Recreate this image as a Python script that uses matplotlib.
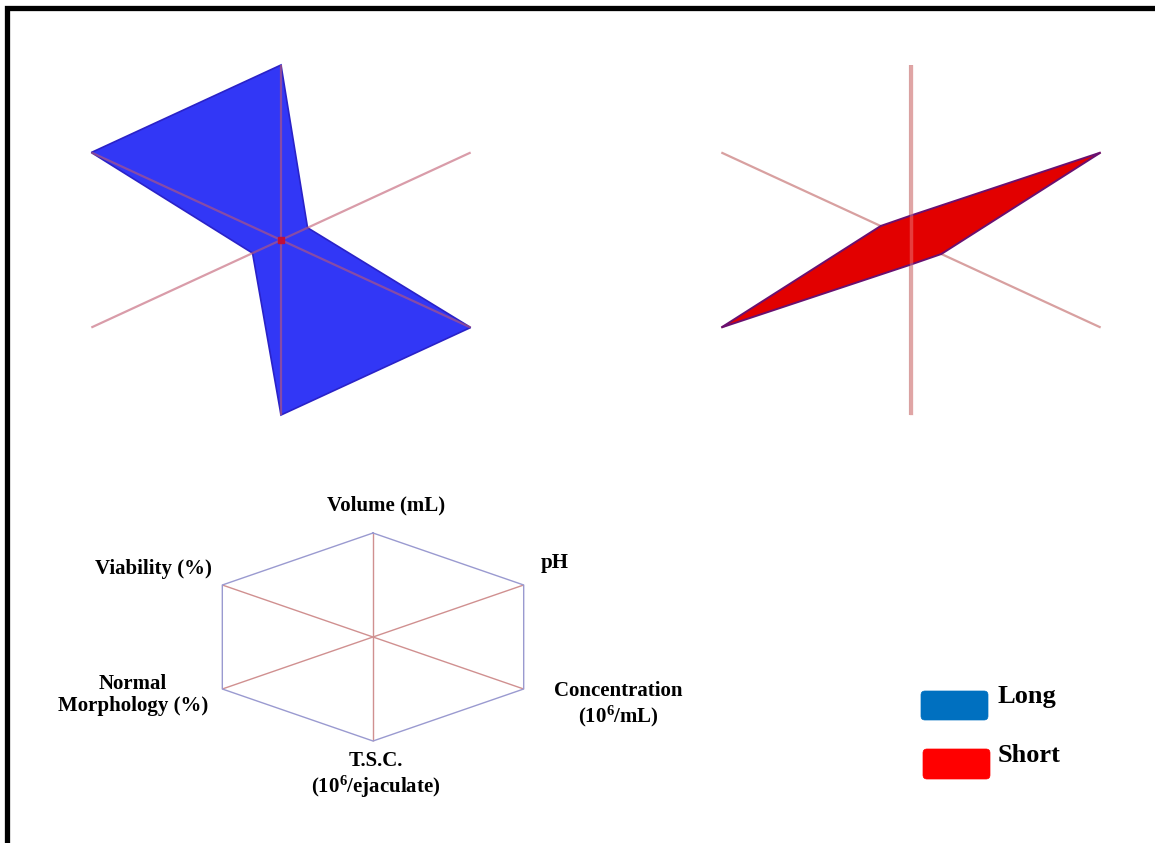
import numpy as np
import matplotlib
matplotlib.use("Agg")
import matplotlib.pyplot as plt
from matplotlib.patches import FancyBboxPatch, Polygon

plt.rcParams['font.family'] = ['Liberation Serif', 'DejaVu Serif']
plt.rcParams['mathtext.fontset'] = 'custom'
plt.rcParams['mathtext.rm'] = 'Liberation Serif:bold'
plt.rcParams['mathtext.it'] = 'Liberation Serif:bold'
plt.rcParams['mathtext.bf'] = 'Liberation Serif:bold'

# Semen traits (normalised to the larger of the two groups)
traits = ["Volume (mL)", "pH", "Concentration\n(10$^6$/mL)",
          "T.S.C.\n(10$^6$/ejaculate)", "Normal\nMorphology (%)", "Viability (%)"]
angles_deg = [90, 30, -30, -90, -150, 150]
long_vals = [1.0, 0.14, 1.0, 1.0, 0.15, 1.0]
short_vals = [0.14, 1.0, 0.16, 0.14, 1.0, 0.16]
groups = ["Long", "Short"]
group_colors = ["#0070c0", "#ff0000"]

W, H = 1155, 843
fig = plt.figure(figsize=(W / 100, H / 100), dpi=100)
fig.patch.set_facecolor("white")

theta = np.deg2rad(angles_deg)
ux, uy = np.cos(theta), np.sin(theta)


def radar_axes(cx, cy, rx, ry, lim=1.2):
    w, h = 2 * lim * rx, 2 * lim * ry
    left, top = cx - lim * rx, cy - lim * ry
    ax = fig.add_axes([left / W, 1 - (top + h) / H, w / W, h / H])
    ax.set_xlim(-lim, lim)
    ax.set_ylim(-lim, lim)
    ax.axis("off")
    ax.patch.set_alpha(0)
    return ax


def spokes(ax, color, lw, alpha=1.0, zorder=3, widths=None):
    for i in range(len(theta)):
        lwi = widths[i] if widths is not None else lw
        ax.plot([0, ux[i]], [0, uy[i]], color=color, lw=lwi, alpha=alpha,
                zorder=zorder, solid_capstyle="butt")


# Long group
ax1 = radar_axes(281, 240, 219, 175)
v = np.array(long_vals)
ax1.add_patch(Polygon(np.column_stack([v * ux, v * uy]), closed=True,
                      facecolor="#3237f6", edgecolor="#2a22c8", lw=1.2, zorder=2))
spokes(ax1, "#c05a70", 1.6, alpha=0.6, zorder=3)
ax1.plot(0, 0, marker="s", ms=4, color="#c0103a", zorder=4)

# Short group
ax2 = radar_axes(911, 240, 219, 175)
v = np.array(short_vals)
spokes(ax2, "#d8a0a0", 1.6, zorder=1, widths=[3.0, 1.6, 1.6, 3.0, 1.6, 1.6])
ax2.add_patch(Polygon(np.column_stack([v * ux, v * uy]), closed=True,
                      facecolor="#e20000", edgecolor="#6a1070", lw=1.4, zorder=2))
ax2.plot([0, 0], [-1, 1], color="#f0b0b0", lw=2.5, alpha=0.35, zorder=3,
         solid_capstyle="butt")

# Axis key
ax3 = radar_axes(373, 637, 174, 104)
hx, hy = np.append(ux, ux[0]), np.append(uy, uy[0])
ax3.plot(hx, hy, color="#9a9ad0", lw=1.0, zorder=2)
spokes(ax3, "#d09090", 1.0, zorder=1)
label_pos = [(0.075, 1.26), (1.046, 0.71), (1.41, -0.65),
             (0.017, -1.33), (-1.38, -0.56), (-1.26, 0.65)]
for name, (x, y) in zip(traits, label_pos):
    ax3.text(x, y, name, ha="center", va="center", fontsize=15,
             fontweight="bold", linespacing=1.15, clip_on=False)

# Overlay: frame and legend in pixel coordinates
ov = fig.add_axes([0, 0, 1, 1])
ov.set_xlim(0, W)
ov.set_ylim(H, 0)
ov.axis("off")
ov.patch.set_alpha(0)
ov.plot([6.5, 6.5, W + 5], [H + 5, 7.5, 7.5], color="black", lw=3.8,
        solid_joinstyle="miter")

legend_boxes = [(921, 691, 67, 29), (923, 749, 67, 30)]
legend_baselines = [703, 762]
for name, col, (x, y, w, h), yb in zip(groups, group_colors, legend_boxes, legend_baselines):
    ov.add_patch(FancyBboxPatch((x + 4, y + 4), w - 8, h - 8,
                                boxstyle="round,pad=4", facecolor=col,
                                edgecolor=col, lw=0.5))
    ov.text(998, yb, name, ha="left", va="baseline", fontsize=19,
            fontweight="bold")

fig.savefig("out.png", dpi=100)
